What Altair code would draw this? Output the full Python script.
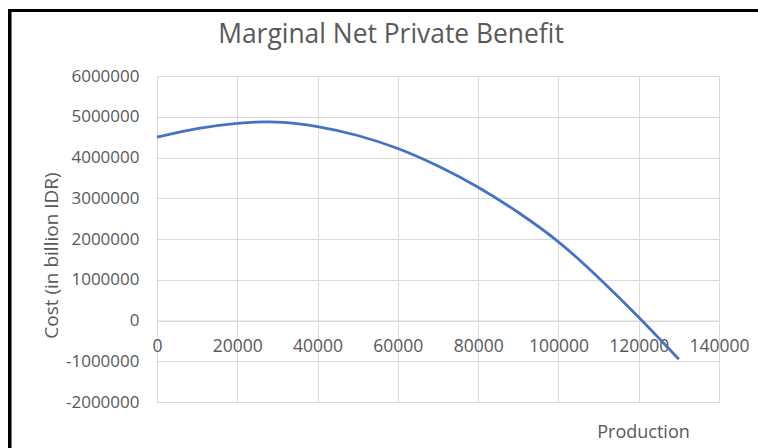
import altair as alt
import pandas as pd

# Marginal net private benefit by production level
production = [0, 10000, 20000, 30000, 40000, 50000, 60000, 70000,
              80000, 90000, 100000, 110000, 120000, 130000]
benefit = [4500000, 4710000, 4840000, 4870000, 4760000, 4540000, 4220000,
           3790000, 3270000, 2650000, 1930000, 1050000, 80000, -950000]

x_ticks = [0, 20000, 40000, 60000, 80000, 100000, 120000, 140000]
y_ticks = [-2000000, -1000000, 0, 1000000, 2000000, 3000000, 4000000,
           5000000, 6000000]

chart_title = ["Marginal Net Private Benefit"]

df = pd.DataFrame({"Production": production, "Benefit": benefit})

FONT = "Open Sans"
TEXT = "#595959"
GRID = "#d9d9d9"

W, H = 562, 326          # plot area
PAD_L, PAD_T = 157, 76   # plot area's offset inside the page

# plain integers with an ASCII hyphen for negatives
plain = "'' + datum.value"

line = alt.Chart(df).mark_line(
    color="#4472C4", strokeWidth=2.75, interpolate="natural"
).encode(
    x=alt.X(
        "Production:Q",
        scale=alt.Scale(domain=[0, 140000], nice=False, zero=False),
        axis=alt.Axis(
            values=x_ticks, labelExpr=plain, labelOverlap=False,
            labelFlush=False,
            grid=True, gridColor=GRID,
            domain=True, domainColor=GRID, ticks=False,
            offset=-(H * 2 / 8), labelPadding=17,
            labelFont=FONT, labelFontSize=17.5, labelColor=TEXT,
            title="Production", titleFont=FONT, titleFontSize=18,
            titleFontWeight="normal", titleColor=TEXT,
            titleX=486, titleY=112, titleAlign="center",
            titleBaseline="middle",
        ),
    ),
    y=alt.Y(
        "Benefit:Q",
        scale=alt.Scale(domain=[-2000000, 6000000], nice=False, zero=False),
        axis=alt.Axis(
            values=y_ticks, labelExpr=plain, labelOverlap=False,
            grid=True, gridColor=GRID,
            domain=False, ticks=False, labelPadding=18,
            labelFont=FONT, labelFontSize=17, labelColor=TEXT,
            title="Cost (in billion IDR)", titleFont=FONT, titleFontSize=19,
            titleFontWeight="normal", titleColor=TEXT,
            titleX=-106, titleY=179, titleAngle=270,
            titleAlign="center", titleBaseline="middle",
        ),
    ),
)

# Chart title, centred over the whole chart frame
title = alt.Chart(pd.DataFrame({"t": chart_title})).mark_text(
    font=FONT, fontSize=26.4, color=TEXT, align="center", baseline="alphabetic"
).encode(
    text="t:N",
    x=alt.value(391 - PAD_L),
    y=alt.value(42.5 - PAD_T),
)

# Chart frame: left and top edges
frame_left = alt.Chart(df).mark_rule(color="black", strokeWidth=2.5).encode(
    x=alt.value(9.8 - PAD_L),
    y=alt.value(9.6 - PAD_T),
    y2=alt.value(448 - PAD_T + 5),
)
frame_top = alt.Chart(df).mark_rule(color="black", strokeWidth=2.5).encode(
    x=alt.value(8.5 - PAD_L),
    x2=alt.value(758 - PAD_L + 5),
    y=alt.value(10.8 - PAD_T),
)

chart = alt.layer(line, title, frame_left, frame_top).properties(
    width=W,
    height=H,
    autosize=alt.AutoSizeParams(type="none"),
    padding={"left": PAD_L, "top": PAD_T, "right": 758 - PAD_L - W,
             "bottom": 448 - PAD_T - H},
    background="white",
).configure_view(stroke=None)

chart.save("out.html", embed_options={"renderer": "svg", "actions": False})
